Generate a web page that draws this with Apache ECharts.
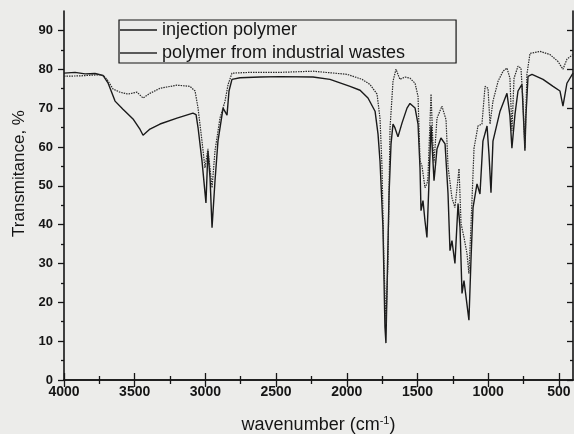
<!DOCTYPE html>
<html>
<head>
<meta charset="utf-8">
<script src="https://cdn.jsdelivr.net/npm/echarts@6/dist/echarts.min.js"></script>
<style>
  html, body { margin: 0; padding: 0; background: #ececea; }
  #chart { width: 574px; height: 434px; }
</style>
</head>
<body>
<div id="chart"></div>
<script>
// FTIR spectra
const wnInjection = [4000, 3922, 3851, 3781, 3724, 3689, 3639, 3583, 3512, 3462, 3441, 3392, 3321, 3201, 3088, 3066, 3052, 3024, 2996, 2982, 2967, 2953, 2932, 2911, 2875, 2847, 2833, 2812, 2755, 2614, 2472, 2239, 2119, 1977, 1906, 1850, 1800, 1779, 1765, 1744, 1730, 1723, 1716, 1701, 1687, 1673, 1659, 1638, 1609, 1574, 1553, 1517, 1496, 1482, 1475, 1461, 1447, 1433, 1426, 1404, 1383, 1362, 1334, 1305, 1284, 1270, 1256, 1235, 1213, 1199, 1185, 1171, 1136, 1121, 1107, 1079, 1058, 1037, 1008, 994, 980, 966, 916, 867, 846, 832, 810, 789, 761, 747, 740, 733, 718, 690, 612, 541, 492, 471, 443, 400];
const tInjection = [79.0, 79.2, 78.8, 78.9, 78.4, 76.5, 71.8, 69.7, 67.2, 64.5, 63.0, 64.6, 65.9, 67.4, 68.7, 68.3, 65.0, 56.4, 45.6, 59.0, 52.0, 39.2, 51.3, 61.5, 70.0, 68.2, 74.4, 77.4, 77.8, 78.0, 78.1, 78.0, 77.4, 75.6, 74.6, 72.6, 69.2, 63.3, 56.4, 39.2, 13.6, 9.5, 22.3, 47.9, 60.8, 65.9, 64.9, 62.6, 66.2, 70.0, 71.2, 70.0, 65.9, 54.6, 43.6, 46.2, 41.0, 36.7, 43.6, 65.5, 51.3, 59.5, 62.3, 60.8, 48.0, 33.3, 35.9, 30.0, 45.4, 39.2, 22.3, 25.6, 15.4, 31.5, 44.4, 50.5, 47.9, 61.5, 65.4, 58.0, 48.2, 61.5, 69.2, 73.8, 68.0, 59.7, 68.5, 74.4, 76.1, 65.0, 59.0, 68.0, 78.2, 78.7, 77.4, 75.6, 74.4, 70.5, 76.4, 79.0];

const wnWaste = [4000, 3887, 3745, 3717, 3696, 3653, 3604, 3547, 3484, 3441, 3392, 3321, 3201, 3109, 3073, 3052, 3024, 3003, 2982, 2953, 2932, 2897, 2861, 2840, 2812, 2685, 2472, 2239, 1998, 1892, 1836, 1786, 1765, 1751, 1737, 1723, 1709, 1694, 1673, 1652, 1624, 1588, 1553, 1517, 1496, 1482, 1468, 1447, 1433, 1426, 1404, 1390, 1383, 1362, 1327, 1298, 1284, 1256, 1235, 1206, 1192, 1171, 1150, 1136, 1121, 1100, 1072, 1044, 1022, 1001, 987, 966, 930, 895, 867, 846, 832, 817, 789, 768, 754, 740, 726, 704, 633, 563, 506, 471, 443, 400];
const tWaste = [78.2, 78.3, 78.6, 78.2, 77.4, 74.9, 74.1, 73.6, 74.1, 72.6, 73.8, 75.1, 75.9, 75.6, 74.4, 70.0, 61.5, 54.6, 59.5, 49.5, 59.0, 67.4, 71.8, 76.0, 79.0, 79.2, 79.2, 79.5, 78.7, 77.4, 76.1, 73.6, 67.4, 55.0, 30.0, 14.5, 30.0, 64.9, 76.9, 80.0, 77.4, 78.0, 77.7, 76.4, 73.0, 56.4, 55.1, 49.5, 50.5, 52.0, 73.6, 60.0, 56.0, 67.4, 70.5, 67.0, 55.0, 46.9, 44.4, 54.4, 40.3, 36.7, 32.6, 27.4, 40.3, 59.7, 65.4, 65.9, 75.6, 75.1, 65.9, 71.8, 76.9, 79.5, 80.3, 77.7, 64.1, 77.7, 80.8, 80.3, 72.0, 59.7, 78.7, 84.1, 84.6, 83.8, 82.0, 80.0, 82.6, 83.8];

const seriesNames = ['injection polymer', 'polymer from industrial wastes'];
const xMajor = [500, 1000, 1500, 2000, 2500, 3000, 3500, 4000];
const xMinor = [750, 1250, 1750, 2250, 2750, 3250, 3750];
const yMajor = [0, 10, 20, 30, 40, 50, 60, 70, 80, 90];
const yMinor = [5, 15, 25, 35, 45, 55, 65, 75, 85];

const FONT = '"Liberation Sans", Arial, Helvetica, sans-serif';
const INK = '#151515';

function pairs(xs, ys) {
  return xs.map((x, i) => [x, ys[i]]);
}

function xAxisOf(position, ticks, len, opts) {
  return Object.assign({
    type: 'value',
    position: position,
    min: 400,
    max: 4000,
    inverse: true,
    splitLine: { show: false },
    axisLine: { show: false, lineStyle: { color: INK, width: 1.6 } },
    axisTick: { show: true, inside: true, length: len, customValues: ticks, lineStyle: { color: INK, width: 1.3 } },
    axisLabel: { show: false }
  }, opts || {});
}

function yAxisOf(position, ticks, len, inside, opts) {
  return Object.assign({
    type: 'value',
    position: position,
    min: 0,
    max: 95,
    splitLine: { show: false },
    axisLine: { show: false, lineStyle: { color: INK, width: 1.6 } },
    axisTick: { show: true, inside: inside, length: len, customValues: ticks, lineStyle: { color: INK, width: 1.3 } },
    axisLabel: { show: false }
  }, opts || {});
}

let chart = echarts.init(document.getElementById('chart'), null, { renderer: 'canvas' });
let options = {
  backgroundColor: '#ececea',
  animation: false,
  grid: {
    left: 64,
    right: 1,
    top: 11,
    bottom: 54,
    containLabel: false,
    outerBoundsMode: 'none'
  },
  legend: {
    orient: 'vertical',
    left: 119,
    top: 20,
    padding: [1, 51, 1, 1],
    itemGap: 5,
    itemWidth: 37,
    itemHeight: 1.4,
    icon: 'rect',
    borderColor: INK,
    borderWidth: 1.2,
    textStyle: { fontSize: 18, color: INK, fontFamily: FONT },
    data: [
      { name: seriesNames[0], icon: 'rect', itemStyle: { color: '#1a1a1a' } },
      { name: seriesNames[1], icon: 'rect', itemStyle: { color: '#2a2a2a' } }
    ]
  },
  xAxis: [
    xAxisOf('bottom', xMajor, 7, {
      axisLine: { show: true, lineStyle: { color: INK, width: 1.6 } },
      axisLabel: {
        show: true,
        customValues: xMajor,
        formatter: v => String(v),
        margin: 5,
        fontSize: 14,
        fontWeight: 'bold',
        color: INK,
        fontFamily: FONT
      },
      name: 'wavenumber (cm{sup|-1})',
      nameLocation: 'middle',
      nameGap: 35,
      nameTextStyle: {
        fontSize: 18,
        color: INK,
        fontFamily: FONT,
        rich: {
          sup: { fontSize: 11, color: INK, fontFamily: FONT, padding: [0, 0, 9, 0] }
        }
      }
    }),
    xAxisOf('bottom', xMinor, 4),
    xAxisOf('top', xMajor, 7, { axisLine: { show: true, lineStyle: { color: INK, width: 1.6 } } }),
    xAxisOf('top', xMinor, 4)
  ],
  yAxis: [
    yAxisOf('left', yMajor, 6, false, {
      axisLine: { show: true, lineStyle: { color: INK, width: 1.6 } },
      axisLabel: {
        show: true,
        customValues: yMajor,
        formatter: v => String(v),
        margin: 11,
        fontSize: 13,
        fontWeight: 'bold',
        color: INK,
        fontFamily: FONT
      },
      name: 'Transmitance, %',
      nameLocation: 'middle',
      nameGap: 34,
      nameTextStyle: {
        fontSize: 17,
        color: INK,
        fontFamily: FONT,
        padding: [0, 0, 0, 44]
      }
    }),
    yAxisOf('left', yMinor, 3, false),
    yAxisOf('right', yMajor, 6, true, { axisLine: { show: true, lineStyle: { color: INK, width: 1.6 } } }),
    yAxisOf('right', yMinor, 3, true)
  ],
  series: [
    {
      name: seriesNames[0],
      type: 'line',
      xAxisIndex: 0,
      yAxisIndex: 0,
      symbol: 'none',
      showSymbol: false,
      smooth: false,
      data: pairs(wnInjection, tInjection),
      lineStyle: { color: '#1a1a1a', width: 1.4 },
      itemStyle: { color: '#1a1a1a' }
    },
    {
      name: seriesNames[1],
      type: 'line',
      xAxisIndex: 0,
      yAxisIndex: 0,
      symbol: 'none',
      showSymbol: false,
      smooth: false,
      data: pairs(wnWaste, tWaste),
      lineStyle: { color: '#2a2a2a', width: 1.2, type: [1.5, 1] },
      itemStyle: { color: '#2a2a2a' }
    }
  ]
};
chart.setOption(options);
</script>
</body>
</html>
